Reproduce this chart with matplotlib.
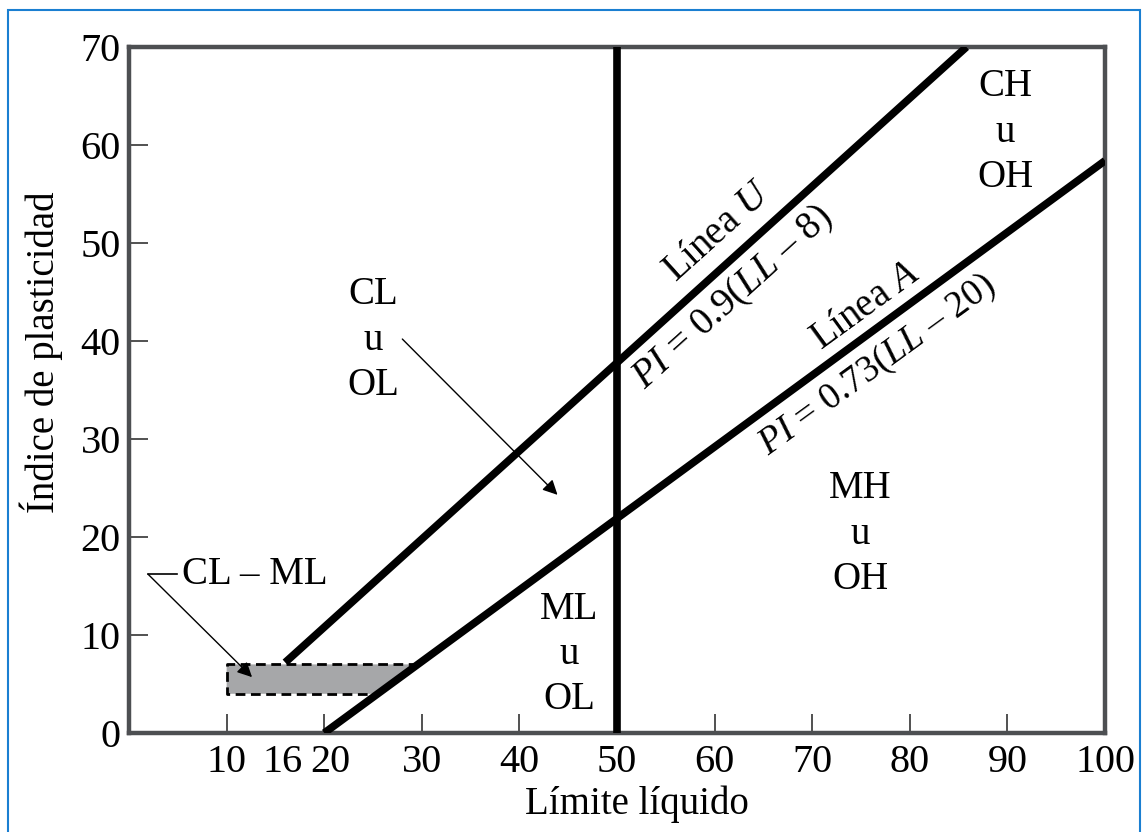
import matplotlib.pyplot as plt
from matplotlib.patches import Rectangle, Polygon
from matplotlib.transforms import ScaledTranslation

plt.rcParams['font.family'] = ['Liberation Serif', 'DejaVu Serif']
plt.rcParams['mathtext.fontset'] = 'custom'
plt.rcParams['mathtext.it'] = 'Liberation Serif:italic'
plt.rcParams['mathtext.rm'] = 'Liberation Serif'

# Plasticity chart lines
u_line_ll = [16, 85.8]
u_line_pi = [7.2, 70]
a_line_ll = [20, 100]
a_line_pi = [0, 58.4]
ll_limit = 50

# CL-ML zone
zone_ll = [10, 25.48, 29.59, 10]
zone_pi = [4, 4, 7, 7]

xticks = [10, 16, 20, 30, 40, 50, 60, 70, 80, 90, 100]
yticks = [0, 10, 20, 30, 40, 50, 60, 70]

fig = plt.figure(figsize=(11.43, 8.32), dpi=100)
ax = fig.add_axes([0.1129, 0.119, 0.8539, 0.8245])

# blue frame around the picture
fig.patches.append(Rectangle((8 / 1143, -0.05), 1132 / 1143, 1.05 - 10 / 832,
                             transform=fig.transFigure, fill=False,
                             edgecolor='#1a7fd1', linewidth=1.5))

ax.add_patch(Polygon(list(zip(zone_ll, zone_pi)), closed=True,
                     facecolor='#a6a7a9', edgecolor='none', zorder=1))
ax.plot([29.59, 10, 10, 25.48], [7, 7, 4, 4], color='black', lw=2.0,
        ls=(0, (3.5, 2)), zorder=2)

ax.plot(u_line_ll, u_line_pi, color='black', lw=5.5, solid_capstyle='butt', zorder=3)
ax.plot(a_line_ll, a_line_pi, color='black', lw=5.5, solid_capstyle='butt', zorder=3)
ax.plot([ll_limit, ll_limit], [0, 70], color='black', lw=5.5, solid_capstyle='butt', zorder=3)

ax.set_xlim(0, 100)
ax.set_ylim(0, 70)
ax.set_xticks(xticks)
ax.set_xticklabels([str(t) for t in xticks])
ax.set_yticks(yticks)
for s in ax.spines.values():
    s.set_color('#4d4f52')
    s.set_linewidth(3.2)
ax.tick_params(direction='in', length=14, width=1.2, color='#333333',
               labelsize=29)
ax.tick_params(axis='x', pad=8)
ax.tick_params(axis='y', pad=6)
ax.xaxis.get_major_ticks()[1].tick1line.set_visible(False)
ax.yaxis.get_major_ticks()[0].tick1line.set_visible(False)
ax.yaxis.get_major_ticks()[-1].tick1line.set_visible(False)
ax.xaxis.get_major_ticks()[-1].tick1line.set_visible(False)

# nudge the crowded 16 / 20 labels apart
lbls = ax.get_xticklabels()
lbls[1].set_transform(lbls[1].get_transform() + ScaledTranslation(-3 / 100, 0, fig.dpi_scale_trans))
lbls[2].set_transform(lbls[2].get_transform() + ScaledTranslation(6 / 100, 0, fig.dpi_scale_trans))

ax.set_xlabel('Límite líquido', fontsize=28)
ax.xaxis.set_label_coords(0.52, -0.076)
ax.set_ylabel('Índice de plasticidad', fontsize=28)
ax.yaxis.set_label_coords(-0.068, 0.555)

fs = 28
kw = dict(ha='center', va='center', fontsize=fs, linespacing=1.3)
ax.text(25.0, 40.1, 'CL\nu\nOL', **kw)
ax.text(45.1, 8.0, 'ML\nu\nOL', **kw)
ax.text(74.9, 20.3, 'MH\nu\nOH', **kw)
ax.text(89.8, 61.3, 'CH\nu\nOH', **kw)

ax.text(60.3, 51.1, 'Línea $\\mathit{U}$', rotation=42, rotation_mode='anchor',
        ha='center', va='center', fontsize=fs)
ax.text(61.9, 44.4, '$\\mathit{PI}$ = 0.9($\\mathit{LL}$ – 8)', rotation=42,
        rotation_mode='anchor', ha='center', va='center', fontsize=fs)
ax.text(75.4, 43.5, 'Línea $\\mathit{A}$', rotation=36, rotation_mode='anchor',
        ha='center', va='center', fontsize=fs)
ax.text(76.7, 37.5, '$\\mathit{PI}$ = 0.73($\\mathit{LL}$ – 20)', rotation=36,
        rotation_mode='anchor', ha='center', va='center', fontsize=27)

ax.annotate('', xy=(43.9, 24.3), xytext=(28.0, 40.2),
            arrowprops=dict(arrowstyle='-|>', color='black', lw=1.0,
                            mutation_scale=22, shrinkA=0, shrinkB=0))
ax.text(5.4, 16.2, 'CL – ML', ha='left', va='center', fontsize=fs)
ax.plot([1.95, 4.9], [16.2, 16.2], color='black', lw=1.2, clip_on=False)
ax.annotate('', xy=(12.6, 5.7), xytext=(1.95, 16.2),
            arrowprops=dict(arrowstyle='-|>', color='black', lw=1.0,
                            mutation_scale=22, shrinkA=0, shrinkB=0))

fig.savefig('out.png', dpi=100)
